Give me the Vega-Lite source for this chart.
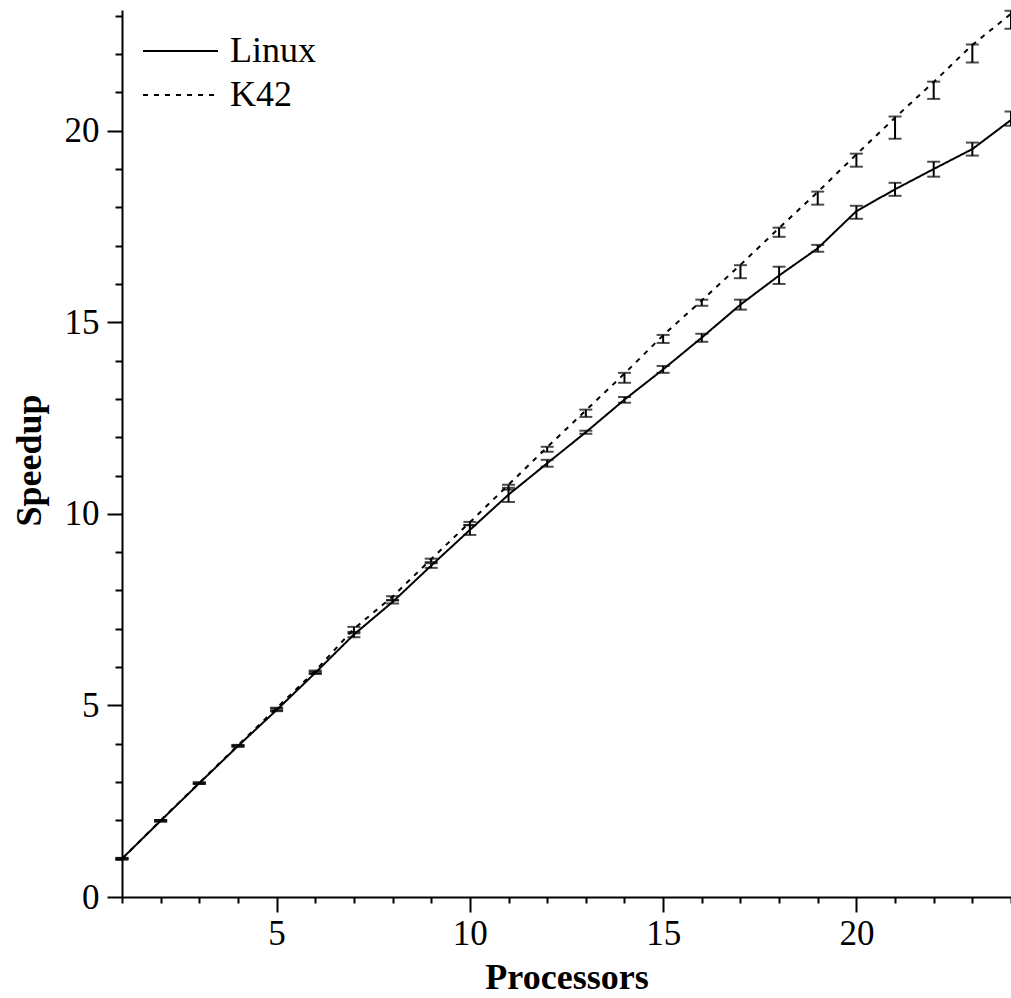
{
  "$schema": "https://vega.github.io/schema/vega-lite/v6.json",
  "width": 889,
  "height": 887,
  "autosize": {"type": "none"},
  "padding": {"left": 122, "top": 10, "right": 0, "bottom": 101},
  "background": "white",
  "config": {
    "view": {"stroke": null},
    "font": "Liberation Serif",
    "axis": {
      "grid": false,
      "domainColor": "black",
      "domainWidth": 2,
      "tickColor": "black",
      "tickWidth": 2,
      "labelColor": "black",
      "labelFont": "Liberation Serif",
      "labelFontSize": 35,
      "labelOverlap": false,
      "labelFlush": false,
      "titleColor": "black",
      "titleFont": "Liberation Serif",
      "titleFontSize": 36,
      "titleFontWeight": "bold"
    }
  },
  "data": {
    "values": [
      {"p": 1, "s": "Linux", "v": 1.0, "lo": 0.98, "hi": 1.02},
      {"p": 2, "s": "Linux", "v": 1.99, "lo": 1.97, "hi": 2.01},
      {"p": 3, "s": "Linux", "v": 2.97, "lo": 2.95, "hi": 2.99},
      {"p": 4, "s": "Linux", "v": 3.94, "lo": 3.92, "hi": 3.96},
      {"p": 5, "s": "Linux", "v": 4.88, "lo": 4.85, "hi": 4.92},
      {"p": 6, "s": "Linux", "v": 5.85, "lo": 5.82, "hi": 5.88},
      {"p": 7, "s": "Linux", "v": 6.85, "lo": 6.78, "hi": 6.92},
      {"p": 8, "s": "Linux", "v": 7.7, "lo": 7.66, "hi": 7.75},
      {"p": 9, "s": "Linux", "v": 8.65, "lo": 8.59, "hi": 8.71},
      {"p": 10, "s": "Linux", "v": 9.58, "lo": 9.45, "hi": 9.7},
      {"p": 11, "s": "Linux", "v": 10.5, "lo": 10.31, "hi": 10.68},
      {"p": 12, "s": "Linux", "v": 11.32, "lo": 11.23, "hi": 11.41},
      {"p": 13, "s": "Linux", "v": 12.13, "lo": 12.09, "hi": 12.17},
      {"p": 14, "s": "Linux", "v": 12.98, "lo": 12.9, "hi": 13.05},
      {"p": 15, "s": "Linux", "v": 13.77, "lo": 13.68, "hi": 13.86},
      {"p": 16, "s": "Linux", "v": 14.6, "lo": 14.49, "hi": 14.7},
      {"p": 17, "s": "Linux", "v": 15.46, "lo": 15.33, "hi": 15.59},
      {"p": 18, "s": "Linux", "v": 16.22, "lo": 16.0, "hi": 16.45},
      {"p": 19, "s": "Linux", "v": 16.93, "lo": 16.84, "hi": 17.02},
      {"p": 20, "s": "Linux", "v": 17.9, "lo": 17.7, "hi": 18.04},
      {"p": 21, "s": "Linux", "v": 18.47, "lo": 18.3, "hi": 18.64},
      {"p": 22, "s": "Linux", "v": 19.0, "lo": 18.8, "hi": 19.19},
      {"p": 23, "s": "Linux", "v": 19.52, "lo": 19.35, "hi": 19.69},
      {"p": 24, "s": "Linux", "v": 20.28, "lo": 20.13, "hi": 20.5},
      {"p": 1, "s": "K42", "v": 1.0, "lo": 0.98, "hi": 1.02},
      {"p": 2, "s": "K42", "v": 2.0, "lo": 1.97, "hi": 2.01},
      {"p": 3, "s": "K42", "v": 2.98, "lo": 2.95, "hi": 2.99},
      {"p": 4, "s": "K42", "v": 3.96, "lo": 3.93, "hi": 3.97},
      {"p": 5, "s": "K42", "v": 4.93, "lo": 4.87, "hi": 4.94},
      {"p": 6, "s": "K42", "v": 5.9, "lo": 5.84, "hi": 5.91},
      {"p": 7, "s": "K42", "v": 7.0, "lo": 6.88, "hi": 7.05},
      {"p": 8, "s": "K42", "v": 7.84, "lo": 7.74, "hi": 7.85},
      {"p": 9, "s": "K42", "v": 8.82, "lo": 8.74, "hi": 8.83},
      {"p": 10, "s": "K42", "v": 9.78, "lo": 9.71, "hi": 9.79},
      {"p": 11, "s": "K42", "v": 10.76, "lo": 10.63, "hi": 10.76},
      {"p": 12, "s": "K42", "v": 11.74, "lo": 11.62, "hi": 11.75},
      {"p": 13, "s": "K42", "v": 12.7, "lo": 12.53, "hi": 12.72},
      {"p": 14, "s": "K42", "v": 13.66, "lo": 13.42, "hi": 13.68},
      {"p": 15, "s": "K42", "v": 14.66, "lo": 14.46, "hi": 14.67},
      {"p": 16, "s": "K42", "v": 15.57, "lo": 15.43, "hi": 15.59},
      {"p": 17, "s": "K42", "v": 16.5, "lo": 16.15, "hi": 16.49},
      {"p": 18, "s": "K42", "v": 17.46, "lo": 17.23, "hi": 17.47},
      {"p": 19, "s": "K42", "v": 18.4, "lo": 18.07, "hi": 18.41},
      {"p": 20, "s": "K42", "v": 19.38, "lo": 19.06, "hi": 19.4},
      {"p": 21, "s": "K42", "v": 20.34, "lo": 19.79, "hi": 20.37},
      {"p": 22, "s": "K42", "v": 21.27, "lo": 20.83, "hi": 21.28},
      {"p": 23, "s": "K42", "v": 22.24, "lo": 21.78, "hi": 22.25},
      {"p": 24, "s": "K42", "v": 23.05, "lo": 22.66, "hi": 23.13}
    ]
  },
  "encoding": {
    "x": {
      "field": "p",
      "type": "quantitative",
      "title": "Processors",
      "scale": {"domain": [1, 24], "nice": false, "zero": false},
      "axis": {
        "values": [1, 2, 3, 4, 5, 6, 7, 8, 9, 10, 11, 12, 13, 14, 15, 16, 17, 18, 19, 20, 21, 22, 23, 24],
        "labelExpr": "datum.value % 5 === 0 ? datum.label : ''",
        "labelOverlap": false,
        "tickSize": {"condition": {"test": "datum.value % 5 === 0", "value": 15}, "value": 6},
        "labelPadding": 4,
        "titleBaseline": "alphabetic",
        "titleY": 91
      }
    }
  },
  "layer": [
    {
      "mark": {"type": "line", "color": "black", "strokeWidth": 2},
      "encoding": {
        "y": {
          "field": "v",
          "type": "quantitative",
          "title": "Speedup",
          "scale": {"domain": [0, 23.15], "nice": false, "zero": false},
          "axis": {
            "values": [0, 1, 2, 3, 4, 5, 6, 7, 8, 9, 10, 11, 12, 13, 14, 15, 16, 17, 18, 19, 20, 21, 22, 23],
            "labelExpr": "datum.value % 5 === 0 ? datum.label : ''",
            "labelOverlap": false,
            "tickSize": {"condition": {"test": "datum.value % 5 === 0", "value": 15}, "value": 7},
            "labelPadding": 8,
            "titleX": -93,
            "titleY": 450,
            "titleAlign": "center",
            "titleBaseline": "middle",
            "titleAngle": -90
          }
        },
        "strokeDash": {
          "field": "s",
          "type": "nominal",
          "scale": {"domain": ["Linux", "K42"], "range": [[1, 0], [5, 6]]},
          "legend": {
            "title": null,
            "orient": "none",
            "legendX": 20,
            "legendY": 19,
            "padding": 0,
            "symbolType": "stroke",
            "symbolSize": 5625,
            "symbolStrokeWidth": 2,
            "symbolStrokeColor": "black",
            "labelFont": "Liberation Serif",
            "labelFontSize": 36,
            "labelColor": "black",
            "labelOffset": 11,
            "clipHeight": 44,
            "rowPadding": 0
          }
        }
      }
    },
    {
      "mark": {"type": "rule", "color": "black", "strokeWidth": 2},
      "encoding": {
        "y": {
          "field": "lo",
          "type": "quantitative",
          "title": "Speedup",
          "axis": {
            "values": [0, 1, 2, 3, 4, 5, 6, 7, 8, 9, 10, 11, 12, 13, 14, 15, 16, 17, 18, 19, 20, 21, 22, 23],
            "labelExpr": "datum.value % 5 === 0 ? datum.label : ''",
            "labelOverlap": false,
            "tickSize": {"condition": {"test": "datum.value % 5 === 0", "value": 15}, "value": 7},
            "labelPadding": 8,
            "titleX": -93,
            "titleY": 450,
            "titleAlign": "center",
            "titleBaseline": "middle",
            "titleAngle": -90
          }
        },
        "y2": {"field": "hi"}
      }
    },
    {
      "mark": {"type": "tick", "orient": "horizontal", "color": "black", "size": 13, "thickness": 2},
      "encoding": {
        "y": {
          "field": "lo",
          "type": "quantitative",
          "title": "Speedup",
          "axis": {
            "values": [0, 1, 2, 3, 4, 5, 6, 7, 8, 9, 10, 11, 12, 13, 14, 15, 16, 17, 18, 19, 20, 21, 22, 23],
            "labelExpr": "datum.value % 5 === 0 ? datum.label : ''",
            "labelOverlap": false,
            "tickSize": {"condition": {"test": "datum.value % 5 === 0", "value": 15}, "value": 7},
            "labelPadding": 8,
            "titleX": -93,
            "titleY": 450,
            "titleAlign": "center",
            "titleBaseline": "middle",
            "titleAngle": -90
          }
        }
      }
    },
    {
      "mark": {"type": "tick", "orient": "horizontal", "color": "black", "size": 13, "thickness": 2},
      "encoding": {
        "y": {
          "field": "hi",
          "type": "quantitative",
          "title": "Speedup",
          "axis": {
            "values": [0, 1, 2, 3, 4, 5, 6, 7, 8, 9, 10, 11, 12, 13, 14, 15, 16, 17, 18, 19, 20, 21, 22, 23],
            "labelExpr": "datum.value % 5 === 0 ? datum.label : ''",
            "labelOverlap": false,
            "tickSize": {"condition": {"test": "datum.value % 5 === 0", "value": 15}, "value": 7},
            "labelPadding": 8,
            "titleX": -93,
            "titleY": 450,
            "titleAlign": "center",
            "titleBaseline": "middle",
            "titleAngle": -90
          }
        }
      }
    }
  ]
}
